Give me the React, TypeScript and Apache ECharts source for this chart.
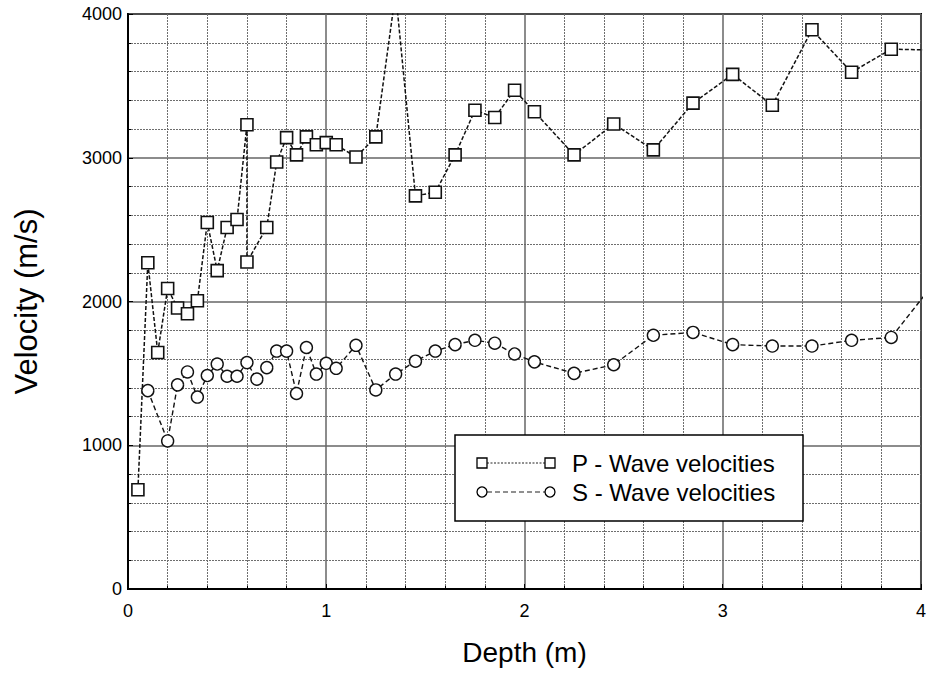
import React, { useEffect, useRef } from "react";
import * as echarts from "echarts";

// Depth (m) of each P-wave reading and its velocity (m/s)
const depthP = [0.05, 0.1, 0.15, 0.2, 0.25, 0.3, 0.35, 0.4, 0.45, 0.5, 0.55, 0.6, 0.6, 0.7, 0.75, 0.8, 0.85, 0.9, 0.95, 1.0, 1.05, 1.15, 1.25, 1.35, 1.45, 1.55, 1.65, 1.75, 1.85, 1.95, 2.05, 2.25, 2.45, 2.65, 2.85, 3.05, 3.25, 3.45, 3.65, 3.85, 4.05];
const velocityP = [690, 2270, 1645, 2090, 1955, 1915, 2005, 2550, 2215, 2515, 2570, 3230, 2275, 2515, 2970, 3140, 3020, 3145, 3090, 3105, 3090, 3005, 3145, 4150, 2735, 2760, 3020, 3330, 3280, 3470, 3320, 3020, 3235, 3055, 3380, 3580, 3365, 3890, 3595, 3755, 3750];

// Depth (m) of each S-wave reading and its velocity (m/s)
const depthS = [0.1, 0.2, 0.25, 0.3, 0.35, 0.4, 0.45, 0.5, 0.55, 0.6, 0.65, 0.7, 0.75, 0.8, 0.85, 0.9, 0.95, 1.0, 1.05, 1.15, 1.25, 1.35, 1.45, 1.55, 1.65, 1.75, 1.85, 1.95, 2.05, 2.25, 2.45, 2.65, 2.85, 3.05, 3.25, 3.45, 3.65, 3.85, 4.05];
const velocityS = [1380, 1030, 1420, 1510, 1335, 1485, 1565, 1480, 1480, 1575, 1460, 1540, 1655, 1655, 1360, 1680, 1495, 1570, 1535, 1695, 1385, 1495, 1585, 1655, 1700, 1730, 1710, 1635, 1580, 1500, 1560, 1765, 1785, 1700, 1690, 1690, 1730, 1750, 2100];

const xTickLabels = ["0", "1", "2", "3", "4"];
const yTickLabels = ["0", "1000", "2000", "3000", "4000"];
const seriesNames = ["P - Wave velocities", "S - Wave velocities"];

const FONT = "'Liberation Sans', Arial, Helvetica, sans-serif";

export default function App() {
  const ref = useRef<HTMLDivElement>(null);

  useEffect(() => {
    if (!ref.current) return;
    const chart = echarts.init(ref.current, null, { renderer: "svg" });

    const pData = depthP.map((d, i) => [d, velocityP[i]]);
    const sData = depthS.map((d, i) => [d, velocityS[i]]);

    const minorLine = { show: true, lineStyle: { color: "#6e6e6e", width: 1, type: [2, 1] as any } };
    const majorLine = { show: true, lineStyle: { color: "#666", width: 1.5, type: "solid" as any } };

    // legend box position (pixels)
    const lx = 455, ly = 435, lw = 348, lh = 86;
    const r1 = 463, r2 = 492, s1 = 482, s2 = 550, tx = 572;

    const option: any = {
      animation: false,
      backgroundColor: "#fff",
      textStyle: { fontFamily: FONT },
      grid: {
        left: 128,
        right: 7,
        top: 14,
        bottom: 110,
        show: true,
        borderColor: "#000",
        borderWidth: 2,
        backgroundColor: "transparent",
      },
      xAxis: {
        type: "value",
        min: 0,
        max: 4,
        interval: 1,
        name: "Depth (m)",
        nameLocation: "middle",
        nameGap: 49,
        nameTextStyle: { fontSize: 28, color: "#000", fontFamily: FONT },
        axisLine: { show: true, lineStyle: { color: "#000", width: 2 } },
        axisTick: { show: true, inside: true, length: 5, lineStyle: { color: "#000" } },
        minorTick: { show: true, splitNumber: 5, length: 3, lineStyle: { color: "#000" } },
        axisLabel: {
          fontSize: 18,
          color: "#000",
          margin: 13,
          fontFamily: FONT,
          formatter: (v: number) => xTickLabels[Math.round(v)] ?? String(v),
        },
        splitLine: majorLine,
        minorSplitLine: minorLine,
      },
      yAxis: {
        type: "value",
        min: 0,
        max: 4000,
        interval: 1000,
        name: "Velocity (m/s)",
        nameLocation: "middle",
        nameGap: 86,
        nameTextStyle: { fontSize: 31, color: "#000", fontFamily: FONT },
        axisLine: { show: true, lineStyle: { color: "#000", width: 2 } },
        axisTick: { show: true, inside: true, length: 5, lineStyle: { color: "#000" } },
        minorTick: { show: true, splitNumber: 5, length: 3, lineStyle: { color: "#000" } },
        axisLabel: {
          fontSize: 18,
          color: "#000",
          margin: 6,
          fontFamily: FONT,
          formatter: (v: number) => yTickLabels[Math.round(v / 1000)] ?? String(v),
        },
        splitLine: majorLine,
        minorSplitLine: minorLine,
      },
      series: [
        {
          name: seriesNames[0],
          type: "line",
          data: pData,
          clip: true,
          symbol: "rect",
          symbolSize: 12,
          showAllSymbol: true,
          itemStyle: { color: "#fff", borderColor: "#111", borderWidth: 1.6 },
          lineStyle: { color: "#111", width: 1.5, type: [4, 2] },
          z: 3,
        },
        {
          name: seriesNames[1],
          type: "line",
          data: sData,
          clip: true,
          symbol: "circle",
          symbolSize: 12,
          showAllSymbol: true,
          itemStyle: { color: "#fff", borderColor: "#111", borderWidth: 1.4 },
          lineStyle: { color: "#111", width: 1.4, type: [5, 3] },
          z: 3,
        },
      ],
      graphic: [
        {
          type: "rect",
          z: 100,
          shape: { x: lx, y: ly, width: lw, height: lh },
          style: { fill: "#fff", stroke: "#000", lineWidth: 1.5 },
        },
        {
          type: "line",
          z: 101,
          shape: { x1: s1 + 5, y1: r1, x2: s2 - 5, y2: r1 },
          style: { stroke: "#222", lineWidth: 1, lineDash: [2, 1.5] },
        },
        {
          type: "rect",
          z: 102,
          shape: { x: s1 - 5, y: r1 - 5, width: 10, height: 10 },
          style: { fill: "#fff", stroke: "#000", lineWidth: 1.3 },
        },
        {
          type: "rect",
          z: 102,
          shape: { x: s2 - 5, y: r1 - 5, width: 10, height: 10 },
          style: { fill: "#fff", stroke: "#000", lineWidth: 1.3 },
        },
        {
          type: "text",
          z: 102,
          x: tx,
          y: r1,
          style: { text: seriesNames[0], fontSize: 24, fontFamily: FONT, fill: "#000", verticalAlign: "middle", align: "left" },
        },
        {
          type: "line",
          z: 101,
          shape: { x1: s1 + 5, y1: r2, x2: s2 - 5, y2: r2 },
          style: { stroke: "#222", lineWidth: 1.2, lineDash: [5, 3] },
        },
        {
          type: "circle",
          z: 102,
          shape: { cx: s1, cy: r2, r: 5 },
          style: { fill: "#fff", stroke: "#000", lineWidth: 1.3 },
        },
        {
          type: "circle",
          z: 102,
          shape: { cx: s2, cy: r2, r: 5 },
          style: { fill: "#fff", stroke: "#000", lineWidth: 1.3 },
        },
        {
          type: "text",
          z: 102,
          x: tx,
          y: r2,
          style: { text: seriesNames[1], fontSize: 24, fontFamily: FONT, fill: "#000", verticalAlign: "middle", align: "left" },
        },
      ],
    };

    chart.setOption(option);
    return () => chart.dispose();
  }, []);

  return (
    <div
      ref={ref}
      style={{ position: "fixed", left: 0, top: 0, width: 929, height: 699, background: "#fff" }}
    />
  );
}
